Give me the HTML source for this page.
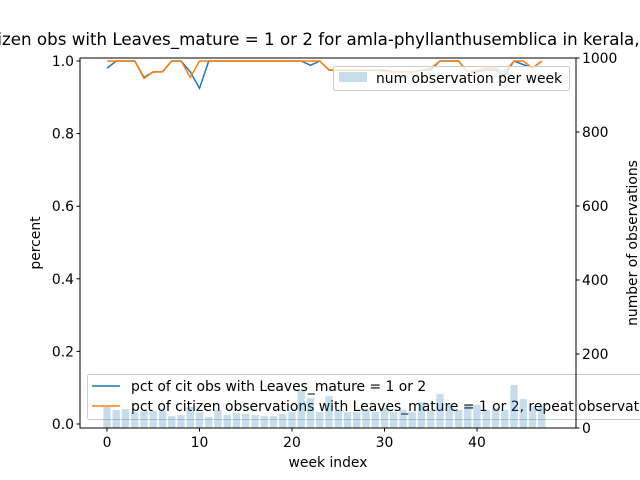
<!DOCTYPE html>
<html><head><meta charset="utf-8"><style>body{margin:0;background:#fff}svg{display:block;font-family:"DejaVu Sans","Liberation Sans",sans-serif}</style></head>
<body>
<svg id="c" width="640" height="480" xmlns="http://www.w3.org/2000/svg">
<text x="-76" y="45" font-size="16.7">pct of citizen obs with Leaves_mature = 1 or 2 for amla-phyllanthusemblica in kerala, 2019</text>
<text x="328" y="467" text-anchor="middle" font-size="13.9">week index</text>
<text transform="translate(40,243) rotate(-90)" text-anchor="middle" font-size="13.9">percent</text>
<text transform="translate(637,243) rotate(-90)" text-anchor="middle" font-size="13.9">number of observations</text>
<g id="lines"></g>
<g>
<rect x="87.5" y="374.5" width="600" height="45" rx="2" fill="#fff" fill-opacity="0.8" stroke="#ccc"/>
<line x1="92" x2="120" y1="386" y2="386" stroke="#1f77b4" stroke-width="1.5"/>
<text x="131" y="391" font-size="13.9">pct of cit obs with Leaves_mature = 1 or 2</text>
<line x1="92" x2="120" y1="406" y2="406" stroke="#ff7f0e" stroke-width="1.5"/>
<text x="131" y="411" font-size="13.9">pct of citizen observations with Leaves_mature = 1 or 2, repeat observations removed</text>
</g>
<g id="bars"></g>
<g>
<rect x="333.5" y="66.5" width="236" height="24" rx="2" fill="#fff" fill-opacity="0.8" stroke="#ccc"/>
<rect x="339" y="72" width="28" height="10" fill="#1f77b4" fill-opacity="0.25"/>
<text x="376" y="83" font-size="13.9">num observation per week</text>
</g>
<g id="axes"></g>
</svg>
<script>
const weeks=[];for(let i=0;i<48;i++)weeks.push(i);
const counts=[57,49,51,43,46,46,46,32,35,57,43,30,49,35,40,38,35,32,32,38,43,100,81,43,86,49,43,43,49,43,54,43,49,43,70,49,92,65,49,62,62,49,54,49,116,78,59,59];
const pctAll=[0.98,1,1,1,0.955,0.97,0.97,1,1,0.97,0.925,1,1,1,1,1,1,1,1,1,1,1,0.988,1,0.975,0.975,0.975,0.975,0.975,0.975,0.975,0.97,0.97,0.97,0.975,0.975,1,1,1,0.97,0.97,0.975,0.975,0.96,1,0.99,0.98,1];
const pctRep=[1,1,1,1,0.952,0.97,0.97,1,1,0.955,1,1,1,1,1,1,1,1,1,1,1,1,1,1,0.975,0.975,0.975,0.975,0.975,0.975,0.97,0.97,0.97,0.97,0.975,0.98,1,1,1,0.97,0.975,0.98,0.98,0.97,1,1,0.98,1];
const leftTicks=[0,0.2,0.4,0.6,0.8,1.0];
const rightTicks=[0,200,400,600,800,1000];
const xTicks=[0,10,20,30,40];
const L=80,R=576,T=58,B=428;
const X=v=>107+v*9.25;
const YL=v=>424-v*363;
const YR=v=>428-v*0.37;
const NS='http://www.w3.org/2000/svg';
const gL=document.getElementById('lines'),gB=document.getElementById('bars'),gA=document.getElementById('axes');
function mk(t,a,p){const e=document.createElementNS(NS,t);for(const k in a)e.setAttribute(k,a[k]);p.appendChild(e);return e;}


weeks.forEach((w,i)=>{const y=YR(counts[i]);const r=mk('rect',{x:X(w)-3.7,y:y,width:7.4,height:B-y,fill:'#1f77b4','fill-opacity':0.25},gB);

});
function line(d,c,n){const p=mk('polyline',{points:weeks.map((w,i)=>X(w)+','+YL(d[i])).join(' '),fill:'none',stroke:c,'stroke-width':1.5},gL);

}
line(pctAll,'#1f77b4','line-pct-all');
line(pctRep,'#ff7f0e','line-pct-repeat-removed');
mk('rect',{x:L,y:T,width:R-L,height:B-T,fill:'none',stroke:'#000','stroke-width':1},gA);
leftTicks.forEach(v=>{const y=YL(v);mk('line',{x1:L-3.5,x2:L,y1:y,y2:y,stroke:'#000'},gA);const t=mk('text',{x:L-6,y:y+5,'text-anchor':'end','font-size':13.9},gA);t.textContent=v.toFixed(1);

});
rightTicks.forEach(v=>{const y=YR(v);mk('line',{x1:R,x2:R+3.5,y1:y,y2:y,stroke:'#000'},gA);const t=mk('text',{x:R+6,y:y+5,'font-size':13.9},gA);t.textContent=v;

});
xTicks.forEach(v=>{const x=X(v);mk('line',{x1:x,x2:x,y1:B,y2:B+3.5,stroke:'#000'},gA);const t=mk('text',{x:x,y:B+19,'text-anchor':'middle','font-size':13.9},gA);t.textContent=v;

});
</script>
</body></html>
